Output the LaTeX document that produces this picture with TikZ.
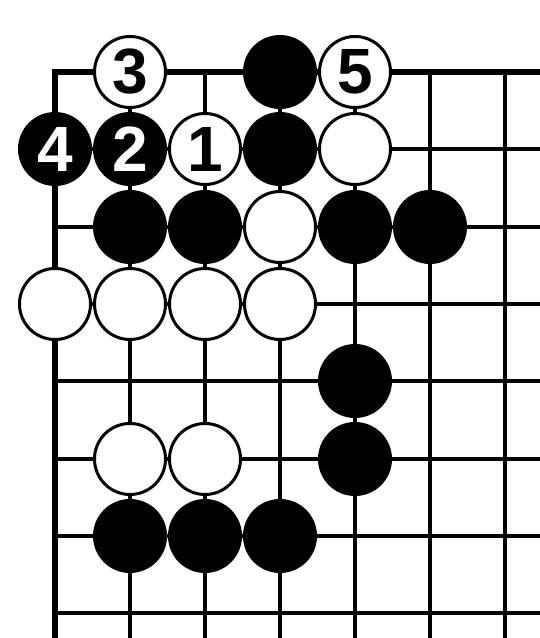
\documentclass[tikz,border=0pt]{standalone}
\usepackage{fontspec}
\setmainfont{Liberation Sans}
\begin{document}
\begin{tikzpicture}[x=1pt,y=-1pt,
  gridline/.style={line width=3.5pt, line cap=rect},
  edgeline/.style={line width=6pt},
  numfont/.style={font=\fontsize{64}{64}\selectfont\bfseries},
  bstone/.style={circle, fill=black, minimum size=74pt, inner sep=0pt, text=white, numfont},
  wstone/.style={circle, fill=white, draw=black, line width=3pt, minimum size=71pt, inner sep=0pt, text=black, numfont}]
\useasboundingbox (0,0) rectangle (540,638);
% grid
\foreach \y in {149,227,304,381,459,536,613} \draw[gridline] (55,\y) -- (545,\y);
\foreach \x in {130,205,280,355,430,505} \draw[gridline] (\x,72) -- (\x,645);
\draw[edgeline] (545,72) -- (55,72) -- (55,645);
% row 1
\node[wstone] (w3) at (130,72) {3};
\node[bstone] (b14) at (280,72) {};
\node[wstone] (w5) at (355,72) {5};
% row 2
\node[bstone] (b4) at (55,149) {4};
\node[bstone] (b2) at (130,149) {2};
\node[wstone] (w1) at (205,149) {1};
\node[bstone] (b24) at (280,149) {};
\node[wstone] (w25) at (355,149) {};
% row 3
\node[bstone] (b32) at (130,227) {};
\node[bstone] (b33) at (205,227) {};
\node[wstone] (w34) at (280,227) {};
\node[bstone] (b35) at (355,227) {};
\node[bstone] (b36) at (430,227) {};
% row 4
\node[wstone] (w41) at (55,304) {};
\node[wstone] (w42) at (130,304) {};
\node[wstone] (w43) at (205,304) {};
\node[wstone] (w44) at (280,304) {};
% row 5
\node[bstone] (b55) at (355,381) {};
% row 6
\node[wstone] (w62) at (130,459) {};
\node[wstone] (w63) at (205,459) {};
\node[bstone] (b65) at (355,459) {};
% row 7
\node[bstone] (b72) at (130,536) {};
\node[bstone] (b73) at (205,536) {};
\node[bstone] (b74) at (280,536) {};
\end{tikzpicture}
\end{document}
